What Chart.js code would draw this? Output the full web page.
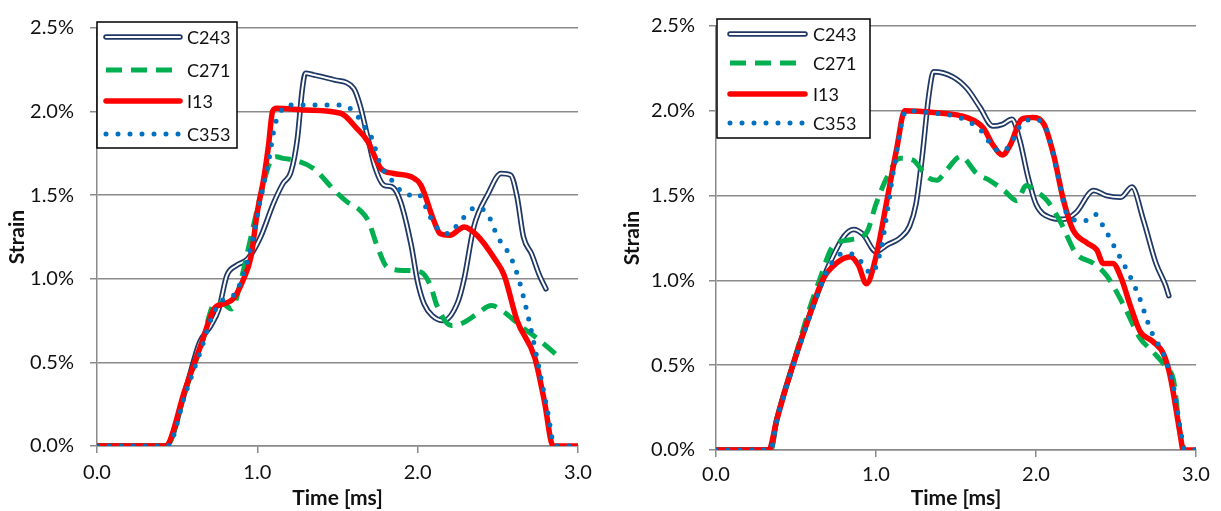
<!DOCTYPE html>
<html><head><meta charset="utf-8">
<script src="https://cdn.jsdelivr.net/npm/chart.js@4/dist/chart.umd.min.js"></script>
<style>
html,body{margin:0;padding:0;background:#fff;width:1221px;height:511px;overflow:hidden}
.box{position:absolute;top:0;height:511px}
canvas{display:block}
</style></head><body>
<div class="box" style="left:0;width:600px"><canvas id="cL" width="600" height="511"></canvas></div>
<div class="box" style="left:610px;width:611px"><canvas id="cR" width="611" height="511"></canvas></div>
<script>
// ---- labels ----
const seriesNames = ["C243", "C271", "I13", "C353"];
const xTitle = "Time [ms]";
const yTitle = "Strain";
const xTicks = [0, 1, 2, 3];
const yTicks = [0, 0.5, 1.0, 1.5, 2.0, 2.5];

// ---- left panel (time in ms, strain in %) ----
const L_C243_t = [0, 0.43, 0.55, 0.64, 0.71, 0.76, 0.81, 0.87, 0.94, 1.02, 1.10, 1.16, 1.21, 1.25, 1.28, 1.30, 1.35, 1.48, 1.60, 1.64, 1.69, 1.73, 1.79, 1.84, 1.89, 1.96, 2.00, 2.04, 2.09, 2.16, 2.25, 2.29, 2.35, 2.44, 2.52, 2.58, 2.62, 2.66, 2.71, 2.76, 2.80];
const L_C243_s = [0, 0, 0.33, 0.62, 0.72, 0.82, 1.02, 1.08, 1.12, 1.25, 1.45, 1.57, 1.64, 1.84, 2.13, 2.23, 2.22, 2.19, 2.14, 2.04, 1.84, 1.68, 1.56, 1.55, 1.47, 1.20, 0.98, 0.85, 0.78, 0.75, 0.86, 1.00, 1.31, 1.51, 1.63, 1.62, 1.49, 1.25, 1.15, 1.02, 0.94];

const L_C271_t = [0, 0.43, 0.55, 0.65, 0.74, 0.79, 0.84, 0.90, 0.96, 1.02, 1.08, 1.12, 1.16, 1.23, 1.35, 1.48, 1.56, 1.64, 1.69, 1.75, 1.81, 1.92, 2.02, 2.08, 2.12, 2.21, 2.29, 2.37, 2.46, 2.54, 2.64, 2.75, 2.86];
const L_C271_s = [0, 0, 0.33, 0.60, 0.86, 0.85, 0.82, 1.00, 1.25, 1.50, 1.70, 1.73, 1.72, 1.71, 1.66, 1.53, 1.46, 1.41, 1.35, 1.19, 1.07, 1.05, 1.04, 0.96, 0.84, 0.72, 0.74, 0.79, 0.84, 0.80, 0.72, 0.64, 0.55];

const L_I13_t = [0, 0.425, 0.55, 0.65, 0.73, 0.79, 0.85, 0.915, 0.96, 1.00, 1.04, 1.07, 1.095, 1.12, 1.30, 1.52, 1.62, 1.69, 1.77, 1.85, 1.96, 2.02, 2.10, 2.14, 2.20, 2.29, 2.37, 2.48, 2.54, 2.62, 2.73, 2.79, 2.845, 3.0];
const L_I13_s = [0, 0, 0.34, 0.61, 0.82, 0.85, 0.88, 1.00, 1.13, 1.40, 1.60, 1.80, 2.00, 2.02, 2.01, 1.99, 1.90, 1.82, 1.66, 1.63, 1.61, 1.56, 1.35, 1.27, 1.26, 1.31, 1.26, 1.12, 1.02, 0.75, 0.53, 0.27, 0, 0];

const L_C353_t = [0, 0.44, 0.55, 0.65, 0.72, 0.78, 0.87, 0.91, 0.96, 1.01, 1.07, 1.11, 1.14, 1.19, 1.27, 1.48, 1.56, 1.62, 1.66, 1.71, 1.77, 1.83, 1.89, 1.94, 2.00, 2.06, 2.10, 2.19, 2.27, 2.37, 2.44, 2.50, 2.58, 2.63, 2.69, 2.75, 2.81, 2.855, 3.0];
const L_C353_s = [0, 0, 0.31, 0.58, 0.78, 0.87, 0.92, 1.02, 1.19, 1.43, 1.70, 1.92, 1.99, 2.04, 2.04, 2.04, 2.03, 1.98, 1.92, 1.85, 1.68, 1.60, 1.53, 1.50, 1.51, 1.41, 1.33, 1.27, 1.35, 1.43, 1.38, 1.25, 1.13, 1.00, 0.77, 0.50, 0.21, 0, 0];

// ---- right panel ----
const R_C243_t = [0, 0.34, 0.38, 0.48, 0.59, 0.67, 0.71, 0.80, 0.86, 0.92, 1.00, 1.07, 1.15, 1.21, 1.25, 1.29, 1.33, 1.36, 1.48, 1.57, 1.65, 1.73, 1.79, 1.85, 1.90, 1.95, 2.00, 2.09, 2.17, 2.25, 2.36, 2.44, 2.53, 2.60, 2.67, 2.75, 2.81, 2.83];
const R_C243_s = [0, 0, 0.18, 0.50, 0.81, 1.01, 1.10, 1.26, 1.30, 1.27, 1.17, 1.21, 1.25, 1.32, 1.45, 1.74, 2.09, 2.23, 2.20, 2.13, 2.02, 1.91, 1.92, 1.95, 1.82, 1.61, 1.45, 1.37, 1.36, 1.40, 1.53, 1.50, 1.49, 1.55, 1.36, 1.10, 0.97, 0.91];

const R_C271_t = [0, 0.34, 0.38, 0.48, 0.58, 0.65, 0.73, 0.84, 0.94, 1.00, 1.07, 1.15, 1.23, 1.32, 1.38, 1.44, 1.53, 1.63, 1.71, 1.80, 1.88, 1.94, 1.98, 2.07, 2.15, 2.25, 2.36, 2.44, 2.55, 2.65, 2.73, 2.82, 2.86, 2.90, 2.925];
const R_C271_s = [0, 0, 0.18, 0.50, 0.82, 1.01, 1.20, 1.24, 1.28, 1.45, 1.61, 1.72, 1.71, 1.61, 1.59, 1.65, 1.73, 1.63, 1.59, 1.53, 1.47, 1.56, 1.54, 1.47, 1.35, 1.16, 1.10, 1.03, 0.85, 0.66, 0.58, 0.48, 0.41, 0.10, 0];

const R_I13_t = [0, 0.33, 0.38, 0.48, 0.59, 0.67, 0.75, 0.84, 0.89, 0.94, 1.00, 1.07, 1.13, 1.18, 1.36, 1.57, 1.67, 1.73, 1.79, 1.84, 1.91, 1.98, 2.05, 2.11, 2.17, 2.23, 2.32, 2.38, 2.42, 2.48, 2.53, 2.59, 2.65, 2.73, 2.80, 2.84, 2.90, 2.92, 3.0];
const R_I13_s = [0, 0, 0.18, 0.50, 0.81, 1.01, 1.10, 1.14, 1.09, 0.98, 1.14, 1.48, 1.78, 2.00, 1.99, 1.96, 1.90, 1.80, 1.74, 1.80, 1.95, 1.96, 1.92, 1.74, 1.48, 1.30, 1.22, 1.18, 1.10, 1.10, 1.02, 0.85, 0.70, 0.64, 0.56, 0.43, 0.10, 0, 0];

const R_C353_t = [0, 0.34, 0.38, 0.48, 0.59, 0.67, 0.72, 0.80, 0.88, 0.93, 0.97, 1.03, 1.07, 1.11, 1.19, 1.32, 1.55, 1.67, 1.72, 1.78, 1.84, 1.90, 1.98, 2.07, 2.13, 2.20, 2.30, 2.37, 2.42, 2.50, 2.59, 2.65, 2.70, 2.73, 2.80, 2.86, 2.91, 2.93, 3.0];
const R_C353_s = [0, 0, 0.17, 0.49, 0.80, 1.00, 1.10, 1.16, 1.14, 1.08, 1.04, 1.18, 1.40, 1.65, 2.00, 1.99, 1.95, 1.87, 1.80, 1.76, 1.80, 1.91, 1.95, 1.88, 1.65, 1.38, 1.35, 1.39, 1.32, 1.18, 1.02, 0.89, 0.75, 0.68, 0.56, 0.37, 0.08, 0, 0];

// ---- helpers ----
const pts = (t, s) => t.map((x, i) => ({x: x, y: s[i]}));
const NAVY = '#1F3864', GREEN = '#00B050', RED = '#FF0000', BLUE = '#0070C0', GRID = '#8a8a8a';
const FONT = 'Lato, "Open Sans", sans-serif';

const styles = {
  C243: {color: NAVY},
  C271: {color: GREEN, width: 5, dash: [16, 9], cap: 'butt'},
  I13: {color: RED, width: 5.5, dash: [], cap: 'round'},
  C353: {color: BLUE, width: 5, dash: [0, 12], cap: 'round'}
};

function buildDatasets(c243, c271, i13, c353) {
  const base = {pointRadius: 0, pointHoverRadius: 0, fill: false, cubicInterpolationMode: 'monotone', borderJoinStyle: 'round'};
  return [
    Object.assign({}, base, {label: 'C353', data: c353, borderColor: BLUE, borderWidth: 5, borderDash: [0, 12], borderCapStyle: 'round'}),
    Object.assign({}, base, {label: 'I13', data: i13, borderColor: RED, borderWidth: 5.5, borderCapStyle: 'round'}),
    Object.assign({}, base, {label: 'C271', data: c271, borderColor: GREEN, borderWidth: 5, borderDash: [16, 9], borderCapStyle: 'butt'}),
    Object.assign({}, base, {label: 'C243 inner', data: c243, borderColor: '#FFFFFF', borderWidth: 2, borderCapStyle: 'round'}),
    Object.assign({}, base, {label: 'C243', data: c243, borderColor: NAVY, borderWidth: 5.5, borderCapStyle: 'round'})
  ];
}

const boxLegend = {
  id: 'boxLegend',
  afterDraw(chart, args, o) {
    const ctx = chart.ctx;
    ctx.save();
    ctx.fillStyle = '#fff';
    ctx.fillRect(o.x0, o.y0, o.x1 - o.x0, o.y1 - o.y0);
    ctx.lineWidth = 1.5;
    ctx.strokeStyle = '#000';
    ctx.strokeRect(o.x0, o.y0, o.x1 - o.x0, o.y1 - o.y0);
    seriesNames.forEach((name, i) => {
      const y = o.rows[i];
      ctx.beginPath();
      ctx.moveTo(o.s0, y); ctx.lineTo(o.s1, y);
      if (name === 'C243') {
        ctx.setLineDash([]); ctx.lineCap = 'round';
        ctx.strokeStyle = NAVY; ctx.lineWidth = 5.5; ctx.stroke();
        ctx.strokeStyle = '#fff'; ctx.lineWidth = 2; ctx.stroke();
      } else {
        const st = styles[name];
        ctx.setLineDash(st.dash); ctx.lineCap = st.cap;
        ctx.strokeStyle = st.color; ctx.lineWidth = st.width; ctx.stroke();
      }
      ctx.setLineDash([]);
      ctx.fillStyle = '#111';
      ctx.font = '18px ' + FONT;
      ctx.textBaseline = 'middle';
      ctx.textAlign = 'left';
      ctx.fillText(name, o.tx, y + 1);
    });
    ctx.restore();
  }
};

function makeChart(id, datasets, g) {
  return new Chart(document.getElementById(id), {
    type: 'line',
    data: {datasets: datasets},
    plugins: [boxLegend],
    options: {
      responsive: false,
      animation: false,
      events: [],
      layout: {padding: {left: 0, right: g.padRight, top: g.padTop, bottom: 0}},
      plugins: {legend: {display: false}, tooltip: {enabled: false}, boxLegend: g.legend},
      scales: {
        x: {
          type: 'linear', min: 0, max: 3,
          afterFit: s => { s.height = g.xHeight; },
          afterBuildTicks: s => { s.ticks = xTicks.map(v => ({value: v})); },
          ticks: {callback: v => v.toFixed(1), color: '#111', font: {family: FONT, size: 20}, padding: g.xTickPad, maxRotation: 0},
          grid: {display: true, drawOnChartArea: false, drawTicks: true, tickLength: 7, color: GRID, lineWidth: 1.5},
          border: {display: true, color: GRID, width: 1.5},
          title: {display: true, text: xTitle, color: '#111', font: {family: FONT, size: 21, weight: 'bold'}, padding: {top: 0, bottom: g.xTitlePad}}
        },
        y: {
          type: 'linear', min: 0, max: 2.5,
          afterFit: s => { s.width = g.yWidth; },
          afterBuildTicks: s => { s.ticks = yTicks.map(v => ({value: v})); },
          ticks: {callback: v => v.toFixed(1) + '%', color: '#111', font: {family: FONT, size: 20}, padding: g.yTickPad},
          grid: {display: true, drawTicks: true, tickLength: 7, color: GRID, lineWidth: 1.5},
          border: {display: true, color: GRID, width: 1.5},
          title: {display: true, text: yTitle, color: '#111', font: {family: FONT, size: 21, weight: 'bold'}, padding: {top: g.yTitlePad, bottom: 0}}
        }
      }
    }
  });
}

makeChart('cL', buildDatasets(pts(L_C243_t, L_C243_s), pts(L_C271_t, L_C271_s), pts(L_I13_t, L_I13_s), pts(L_C353_t, L_C353_s)), {
  padRight: 22, padTop: 21, xHeight: 65, yWidth: 97, yTickPad: 16, yTitlePad: 5, xTitlePad: 0, xTickPad: 8,
  legend: {x0: 97, y0: 22, x1: 237, y1: 148, rows: [37, 70, 101, 134], s0: 106, s1: 180, tx: 187}
});
makeChart('cR', buildDatasets(pts(R_C243_t, R_C243_s), pts(R_C271_t, R_C271_s), pts(R_I13_t, R_I13_s), pts(R_C353_t, R_C353_s)), {
  padRight: 25, padTop: 20, xHeight: 61, yWidth: 106, yTickPad: 14, yTitlePad: 10, xTitlePad: 0, xTickPad: 6,
  legend: {x0: 107, y0: 19, x1: 260, y1: 138, rows: [34, 63, 94, 123], s0: 120, s1: 195, tx: 203}
});
</script>
</body></html>
